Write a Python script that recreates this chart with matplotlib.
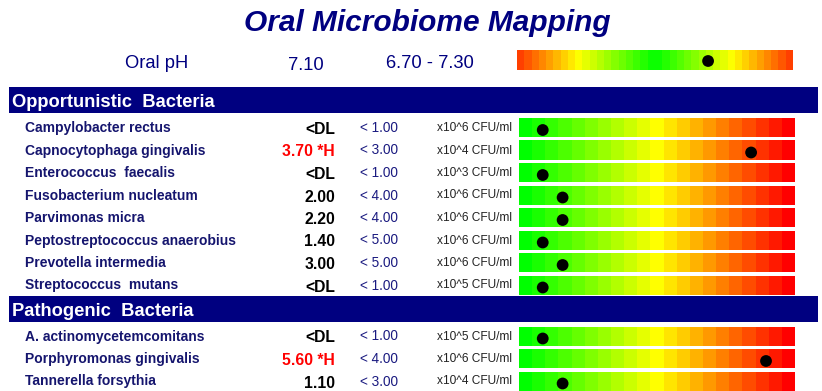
import numpy as np
import matplotlib
matplotlib.use("Agg")
import matplotlib.pyplot as plt
from matplotlib.colors import hsv_to_rgb

plt.rcParams['font.family'] = ['Liberation Sans', 'DejaVu Sans']

# ---------------- data ----------------
title = "Oral Microbiome Mapping"
ph_label = "Oral pH"
ph_value = 7.10
ph_value_text = "7.10"
ph_range_text = "6.70 - 7.30"
ph_scale = (6.74, 7.26)

opp_header = "Opportunistic  Bacteria"
opp_names = ["Campylobacter rectus", "Capnocytophaga gingivalis", "Enterococcus  faecalis",
             "Fusobacterium nucleatum", "Parvimonas micra", "Peptostreptococcus anaerobius",
             "Prevotella intermedia", "Streptococcus  mutans"]
opp_values = ["<DL", "3.70 *H", "<DL", "2.00", "2.20", "1.40", "3.00", "<DL"]
opp_high = [False, True, False, False, False, False, False, False]
opp_limits = ["< 1.00", "< 3.00", "< 1.00", "< 4.00", "< 4.00", "< 5.00", "< 5.00", "< 1.00"]
opp_units = ["x10^6 CFU/ml", "x10^4 CFU/ml", "x10^3 CFU/ml", "x10^6 CFU/ml",
             "x10^6 CFU/ml", "x10^6 CFU/ml", "x10^6 CFU/ml", "x10^5 CFU/ml"]
opp_scores = [8.6, 84.1, 8.6, 15.8, 15.8, 8.6, 15.8, 8.6]

path_header = "Pathogenic  Bacteria"
path_names = ["A. actinomycetemcomitans", "Porphyromonas gingivalis", "Tannerella forsythia"]
path_values = ["<DL", "5.60 *H", "1.10"]
path_high = [False, True, False]
path_limits = ["< 1.00", "< 4.00", "< 3.00"]
path_units = ["x10^5 CFU/ml", "x10^6 CFU/ml", "x10^4 CFU/ml"]
path_scores = [8.6, 89.5, 15.8]

# ---------------- layout ----------------
W, H = 822, 391
fig = plt.figure(figsize=(W / 100, H / 100), dpi=100)
fig.patch.set_facecolor("white")
bg = fig.add_axes([0, 0, 1, 1])
bg.set_xlim(0, W)
bg.set_ylim(H, 0)
bg.axis("off")

NAVY = "#000080"
NAME_C = "#15156e"
LIM_C = "#1a1a80"

# gradients
n_bar = 21
hue = (1 - (np.arange(n_bar) / (n_bar - 1))) * 120 / 360
bar_grad = hsv_to_rgb(np.stack([hue, np.ones(n_bar), np.ones(n_bar)], axis=1))

n_ph = 38
fp = (np.arange(n_ph) + 0.5) / n_ph
hue_ph = (12 + 108 * (1 - np.abs(2 * fp - 1))) / 360
ph_grad = hsv_to_rgb(np.stack([hue_ph, np.ones(n_ph), np.ones(n_ph)], axis=1))


def add_bar(left, top, width, height, grad, xlim, xval, yfrac):
    ax = fig.add_axes([left / W, 1 - (top + height) / H, width / W, height / H])
    ax.imshow(grad[None, :, :], extent=(xlim[0], xlim[1], 0, 1), aspect="auto",
              interpolation="nearest")
    ax.scatter([xval], [yfrac], s=72, color="black", zorder=3, clip_on=False,
               edgecolors="none")
    ax.set_xlim(*xlim)
    ax.set_ylim(0, 1)
    ax.axis("off")
    return ax


# title
bg.text(427, 31, title, ha="center", va="baseline", fontsize=21.5, fontweight="bold",
        fontstyle="italic", color=NAVY)

# pH row
bg.text(125, 68, ph_label, ha="left", va="baseline", fontsize=13.2, color=NAVY)
bg.text(305.5, 70, ph_value_text, ha="center", va="baseline", fontsize=13.2, color=NAVY)
bg.text(429.5, 67.7, ph_range_text, ha="center", va="baseline", fontsize=13.2, color=NAVY)
add_bar(517, 50, 276, 20, ph_grad, ph_scale, ph_value, 0.45)


def section(band_top, band_h, header, names, values, high, limits, units, scores, first_top):
    bg.add_patch(plt.Rectangle((9, band_top), 809, band_h, color=NAVY, lw=0))
    bg.text(12, band_top + 20, header, ha="left", va="baseline", fontsize=13.2,
            fontweight="bold", color="white")
    for i in range(len(names)):
        top = first_top + 22.5 * i
        bg.text(25, top + 14, names[i], ha="left", va="baseline", fontsize=10,
                fontweight="bold", color=NAME_C)
        bg.text(335, top + 16, values[i], ha="right", va="baseline", fontsize=11.3,
                fontweight="bold", color="#ff0000" if high[i] else "black")
        bg.text(360, top + 14, limits[i], ha="left", va="baseline", fontsize=9.8,
                color=LIM_C)
        bg.text(512, top + 13, units[i], ha="right", va="baseline", fontsize=8.6,
                color="#222222")
        add_bar(519, top, 276, 19.5, bar_grad, (0, 100), scores[i], 0.385)


section(87, 25.5, opp_header, opp_names, opp_values, opp_high, opp_limits, opp_units,
        opp_scores, 118)
section(295.5, 26.5, path_header, path_names, path_values, path_high, path_limits,
        path_units, path_scores, 326.5)

fig.savefig("out.png", dpi=100)
